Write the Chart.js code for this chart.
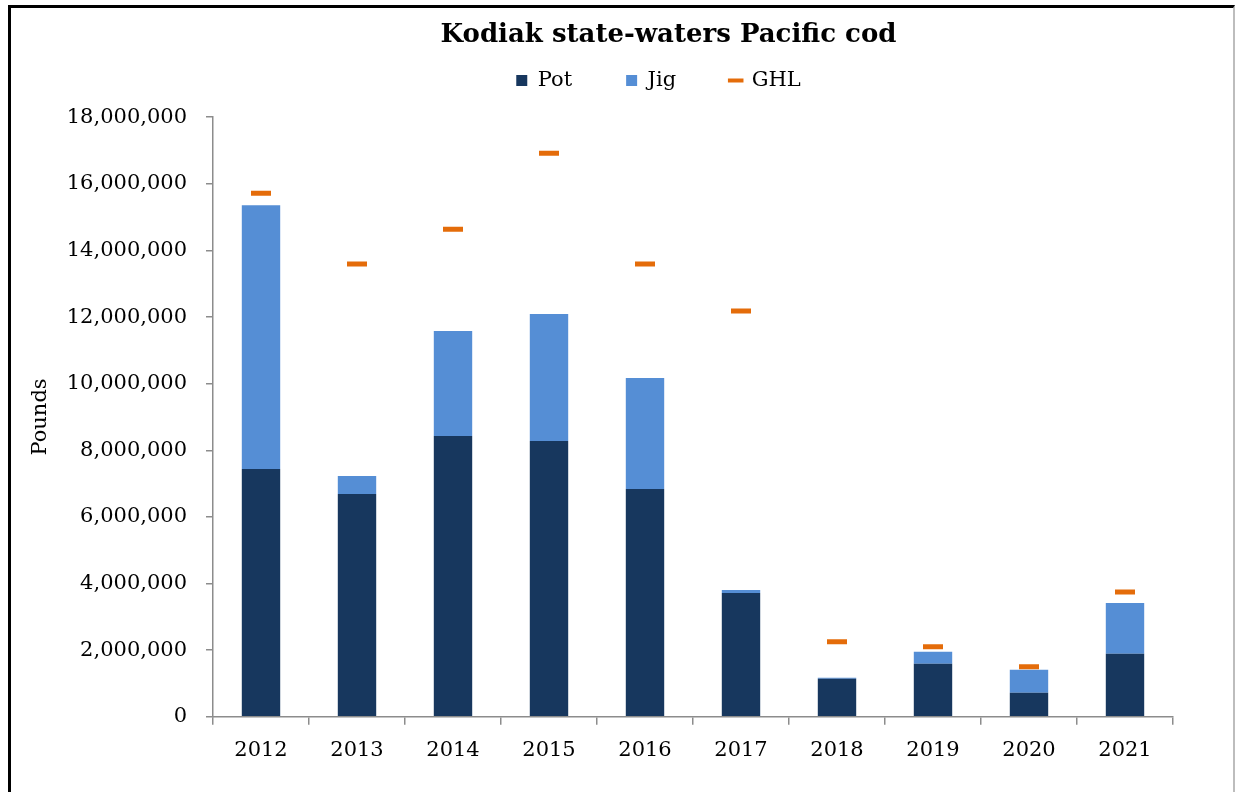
<!DOCTYPE html>
<html>
<head>
<meta charset="utf-8">
<script src="https://cdn.jsdelivr.net/npm/chart.js@4"></script>
<style>
  html, body { margin: 0; padding: 0; background: #fff; }
  #wrap { position: absolute; left: 0; top: 0; width: 1235px; height: 792px; }
  #frame {
    position: absolute; left: 8px; top: 5px; width: 1222px; height: 800px;
    border-left: 3px solid #000; border-top: 3px solid #000; border-right: 2px solid #bdbdbd;
    pointer-events: none;
  }
</style>
</head>
<body>
<div id="wrap"><canvas id="codChart" width="1235" height="792"></canvas></div>
<div id="frame"></div>
<script>
const years = ['2012', '2013', '2014', '2015', '2016', '2017', '2018', '2019', '2020', '2021'];
const potLbs = [7440000, 6690000, 8430000, 8280000, 6840000, 3720000, 1140000, 1590000, 720000, 1890000];
const jigLbs = [7920000, 540000, 3150000, 3810000, 3330000, 90000, 30000, 360000, 690000, 1530000];
const ghlLbs = [15720000, 13590000, 14640000, 16920000, 13590000, 12180000, 2250000, 2100000, 1500000, 3750000];

const serif = '"DejaVu Serif", "Liberation Serif", serif';

// legend sits high with wide item gaps; keep its box short and nudge title/legend like the Excel original
const headerPlacement = {
  id: 'headerPlacement',
  beforeLayout(chart) {
    const lg = chart.legend;
    if (lg && !lg._patched) {
      const fit = lg.fit;
      lg.fit = function () {
        fit.call(this);
        this.height = 66;
      };
      lg._patched = true;
    }
  },
  afterLayout(chart) {
    const t = chart.titleBlock;
    if (t) { t.left += 144; }
    const lg = chart.legend;
    if (lg) {
      lg.top = 16;
      lg.bottom = 112;
      lg.height = 96;
      lg.left += 62;
      lg.right += 62;
    }
  }
};

document.addEventListener('DOMContentLoaded', () => {
  const ctx = document.getElementById('codChart').getContext('2d');

  new Chart(ctx, {
    type: 'bar',
    data: {
      labels: years,
      datasets: [
        {
          label: 'Pot',
          data: potLbs,
          backgroundColor: '#17375E',
          stack: 'catch',
          order: 2
        },
        {
          label: 'Jig',
          data: jigLbs,
          backgroundColor: '#558ED5',
          stack: 'catch',
          order: 2
        },
        {
          type: 'line',
          label: 'GHL',
          data: ghlLbs,
          stack: 'ghl',
          showLine: false,
          pointStyle: 'line',
          pointRadius: 10,
          pointHoverRadius: 10,
          borderColor: '#E46C0A',
          backgroundColor: '#E46C0A',
          borderWidth: 5,
          pointBorderWidth: 5,
          order: 1
        }
      ]
    },
    options: {
      responsive: false,
      animation: false,
      categoryPercentage: 1,
      barPercentage: 0.4,
      layout: { padding: { top: 20, left: 20, right: 62, bottom: 16 } },
      plugins: {
        title: {
          display: true,
          text: 'Kodiak state-waters Pacific cod',
          color: '#000',
          font: { family: serif, size: 26, weight: 'bold' },
          padding: { top: 0, bottom: 0 }
        },
        legend: {
          position: 'top',
          labels: {
            color: '#000',
            font: { family: serif, size: 21 },
            usePointStyle: true,
            boxWidth: 11,
            boxHeight: 11,
            padding: 54,
            generateLabels: (chart) => chart.data.datasets.map((ds, i) => ({
              text: ds.label,
              fillStyle: ds.backgroundColor,
              strokeStyle: ds.type === 'line' ? ds.borderColor : ds.backgroundColor,
              lineWidth: ds.type === 'line' ? 4 : 0,
              pointStyle: ds.type === 'line' ? 'line' : 'rect',
              fontColor: '#000',
              hidden: false,
              datasetIndex: i
            }))
          }
        },
        tooltip: { enabled: false }
      },
      scales: {
        x: {
          stacked: true,
          grid: {
            offset: true,
            drawOnChartArea: false,
            drawTicks: true,
            tickLength: 8,
            color: '#8c8c8c',
            lineWidth: 1.5
          },
          border: { color: '#8c8c8c', width: 1.5 },
          ticks: {
            color: '#000',
            font: { family: serif, size: 21 },
            padding: 13
          }
        },
        y: {
          stacked: true,
          min: 0,
          max: 18000000,
          afterFit: (scale) => { scale.width = 193; },
          grid: {
            drawOnChartArea: false,
            drawTicks: true,
            tickLength: 7,
            color: '#8c8c8c',
            lineWidth: 1.5
          },
          border: { color: '#8c8c8c', width: 1.5 },
          ticks: {
            stepSize: 2000000,
            color: '#000',
            font: { family: serif, size: 21 },
            padding: 19,
            callback: (v) => v.toLocaleString('en-US')
          },
          title: {
            display: true,
            text: 'Pounds',
            color: '#000',
            font: { family: serif, size: 21 },
            padding: { top: 8, bottom: 0 }
          }
        }
      }
    },
    plugins: [headerPlacement]
  });
});
</script>
</body>
</html>
